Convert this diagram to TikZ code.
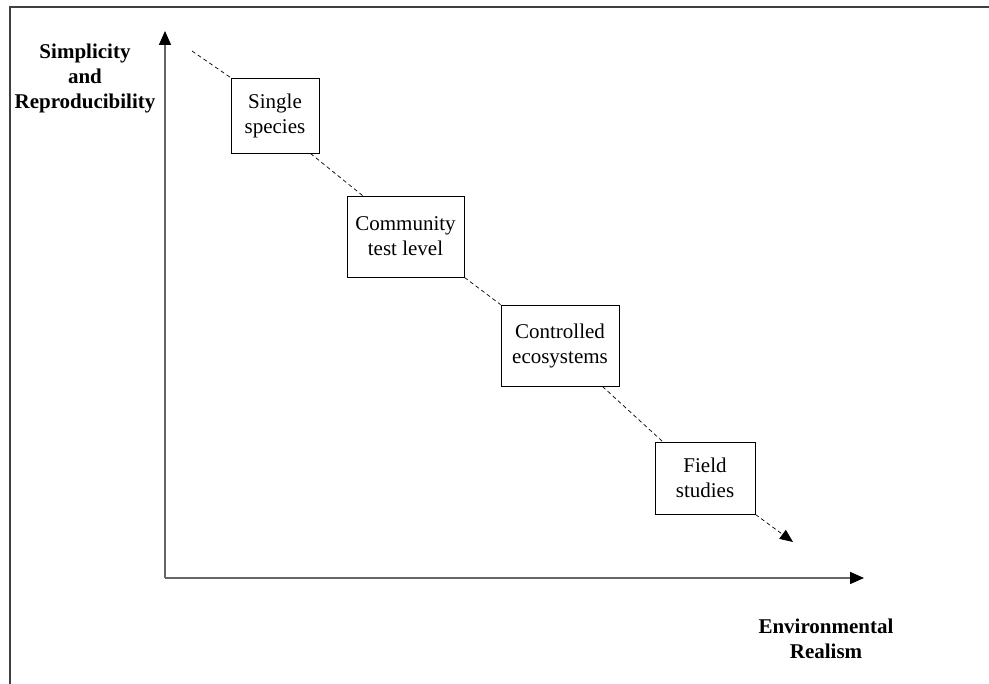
\documentclass[tikz,border=0pt]{standalone}
\usepackage{fontspec}
\setmainfont{Liberation Serif}
\usetikzlibrary{arrows.meta}
\tikzset{
  stage/.style={draw, line width=0.9pt, inner sep=0pt, align=center,
    font=\fontsize{21}{25}\selectfont},
  axislabel/.style={align=center, font=\fontsize{21}{25}\selectfont\bfseries},
  axis/.style={line width=1.6pt, draw=black!60, -{Triangle[length=14pt,width=12pt,color=black]}},
  trend/.style={line width=0.7pt, dash pattern=on 4pt off 3pt}
}
\begin{document}
\begin{tikzpicture}[x=1pt,y=-1pt]
  \useasboundingbox (0,0) rectangle (989,684);
  % frame
  \draw[line width=1.2pt, black!75] (10,684) -- (10,7) -- (989,7);
  % axes
  \coordinate (origin) at (165,578);
  \coordinate (ytip) at (165,31);
  \coordinate (xtip) at (864,578);
  \draw[axis] (origin) -- (ytip);
  \draw[axis] (origin) -- (xtip);
  \node[axislabel] (ylab) at (85,78) {Simplicity\\and\\Reproducibility};
  \node[axislabel] (xlab) at (826,639) {Environmental\\Realism};
  % stages
  \draw
    (275,115.5) node[stage, minimum width=88pt, minimum height=75pt] (single){Single\\species}
    (405.5,236.5) node[stage, minimum width=117pt, minimum height=81pt] (community){Community\\test level}
    (560,345.5) node[stage, minimum width=118pt, minimum height=81pt] (controlled){Controlled\\ecosystems}
    (705,478) node[stage, minimum width=100pt, minimum height=72pt] (field){Field\\studies};
  \coordinate (start) at (192,51);
  \coordinate (end) at (793,542);
  \begin{scope}[trend]
    \draw (start) to (single.north west);
    \draw ([xshift=-9pt]single.south east) to ([xshift=16pt]community.north west);
    \draw (community.south east) to (controlled.north west);
    \draw ([xshift=-17pt]controlled.south east) to ([xshift=8pt]field.north west);
    \draw[-{Triangle[length=13pt,width=11pt]}] (field.south east) to (end);
  \end{scope}
\end{tikzpicture}
\end{document}
